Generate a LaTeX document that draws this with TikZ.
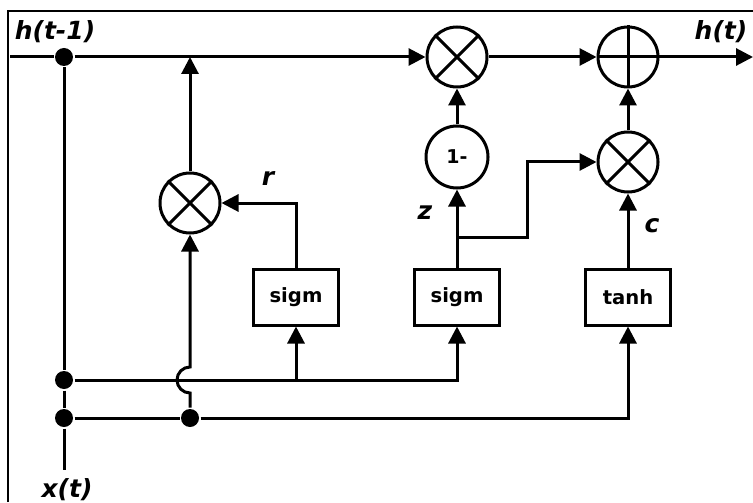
\documentclass[tikz,border=0pt]{standalone}
\usepackage{fontspec}
\setmainfont{DejaVu Sans}
\usetikzlibrary{arrows.meta,positioning}

\begin{document}
\begin{tikzpicture}[
  x=0.5pt,y=-0.5pt,
  line width=1.5pt,
  every node/.style={align=center},
  gate/.style={draw,rectangle,minimum width=42.5pt,minimum height=28pt,inner sep=0pt,font=\bfseries\fontsize{9.8}{12}\selectfont},
  mult/.style={draw,circle,minimum size=30pt,inner sep=0pt},
  onem/.style={draw,circle,minimum size=31pt,inner sep=0pt,font=\bfseries\fontsize{9.5}{11}\selectfont},
  dot/.style={circle,fill,inner sep=0pt,minimum size=9pt},
  lbl/.style={font=\bfseries\itshape\fontsize{12.5}{15}\selectfont},
  arrow/.style={-{Triangle[length=8.5pt,width=8.5pt]}}
]
\useasboundingbox (0,0) rectangle (753,502);
\draw[line width=1pt] (8,502) -- (8,11) -- (753,11);

% operators
\node[mult] (mr) at (190,203) {};
\node[mult] (mh) at (457,57) {};
\node[mult] (ph) at (628,57) {};
\node[mult] (mc) at (628,162) {};
\node[onem] (om) at (457,157) {1-};
\foreach \n in {mr,mh,mc}
  \draw (\n.north west) -- (\n.south east) (\n.north east) -- (\n.south west);
\draw (ph.north) -- (ph.south) (ph.west) -- (ph.east);

% gates
\node[gate] (sr) at (296,297) {sigm};
\node[gate] (sz) at (457,297) {sigm};
\node[gate] (tc) at (628,297) {tanh};

% junctions
\node[dot] (d0) at (64,57) {};
\node[dot] (d1) at (64,380) {};
\node[dot] (d2) at (64,418) {};
\node[dot] (d3) at (190,418) {};
\coordinate (hin) at (10,57);
\coordinate (hout) at (753,57);
\coordinate (xin) at (64,470);
\coordinate (jr) at (190,57);
\coordinate (br) at (296,380);
\coordinate (zb) at (457,237);
\coordinate (zk) at (527,237);

% labels
\node[lbl] (lh0) at (55,32) {h(t-1)};
\node[lbl] (lh1) at (721,32) {h(t)};
\node[lbl] (lx) at (67,490) {x(t)};
\node[lbl] (lr) at (268,178) {r};
\node[lbl] (lz) at (425,213) {z};
\node[lbl] (lc) at (652,226) {c};

% wires
\draw (hin) -- (d0);
\draw[arrow] (d0) -- (mh);
\draw[arrow] (mh) -- (ph);
\draw[arrow] (ph) -- (hout);
\draw (d0) -- (d1) -- (d2) -- (xin);
\draw[arrow] (mr) -- (jr);
\draw[arrow] (sr) |- (mr);
\draw[arrow] (d3) -- (190,393) arc[start angle=90,end angle=270,radius=13] -- (mr);
\draw[arrow] (d1) -| (sz);
\draw[arrow] (br) -- (sr);
\draw (d2) -- (d3);
\draw[arrow] (d3) -| (tc);
\draw[arrow] (sz) -- (om);
\draw[arrow] (zb) -- (zk) |- (mc);
\draw[arrow] (om) -- (mh);
\draw[arrow] (tc) -- (mc);
\draw[arrow] (mc) -- (ph);
\end{tikzpicture}
\end{document}
